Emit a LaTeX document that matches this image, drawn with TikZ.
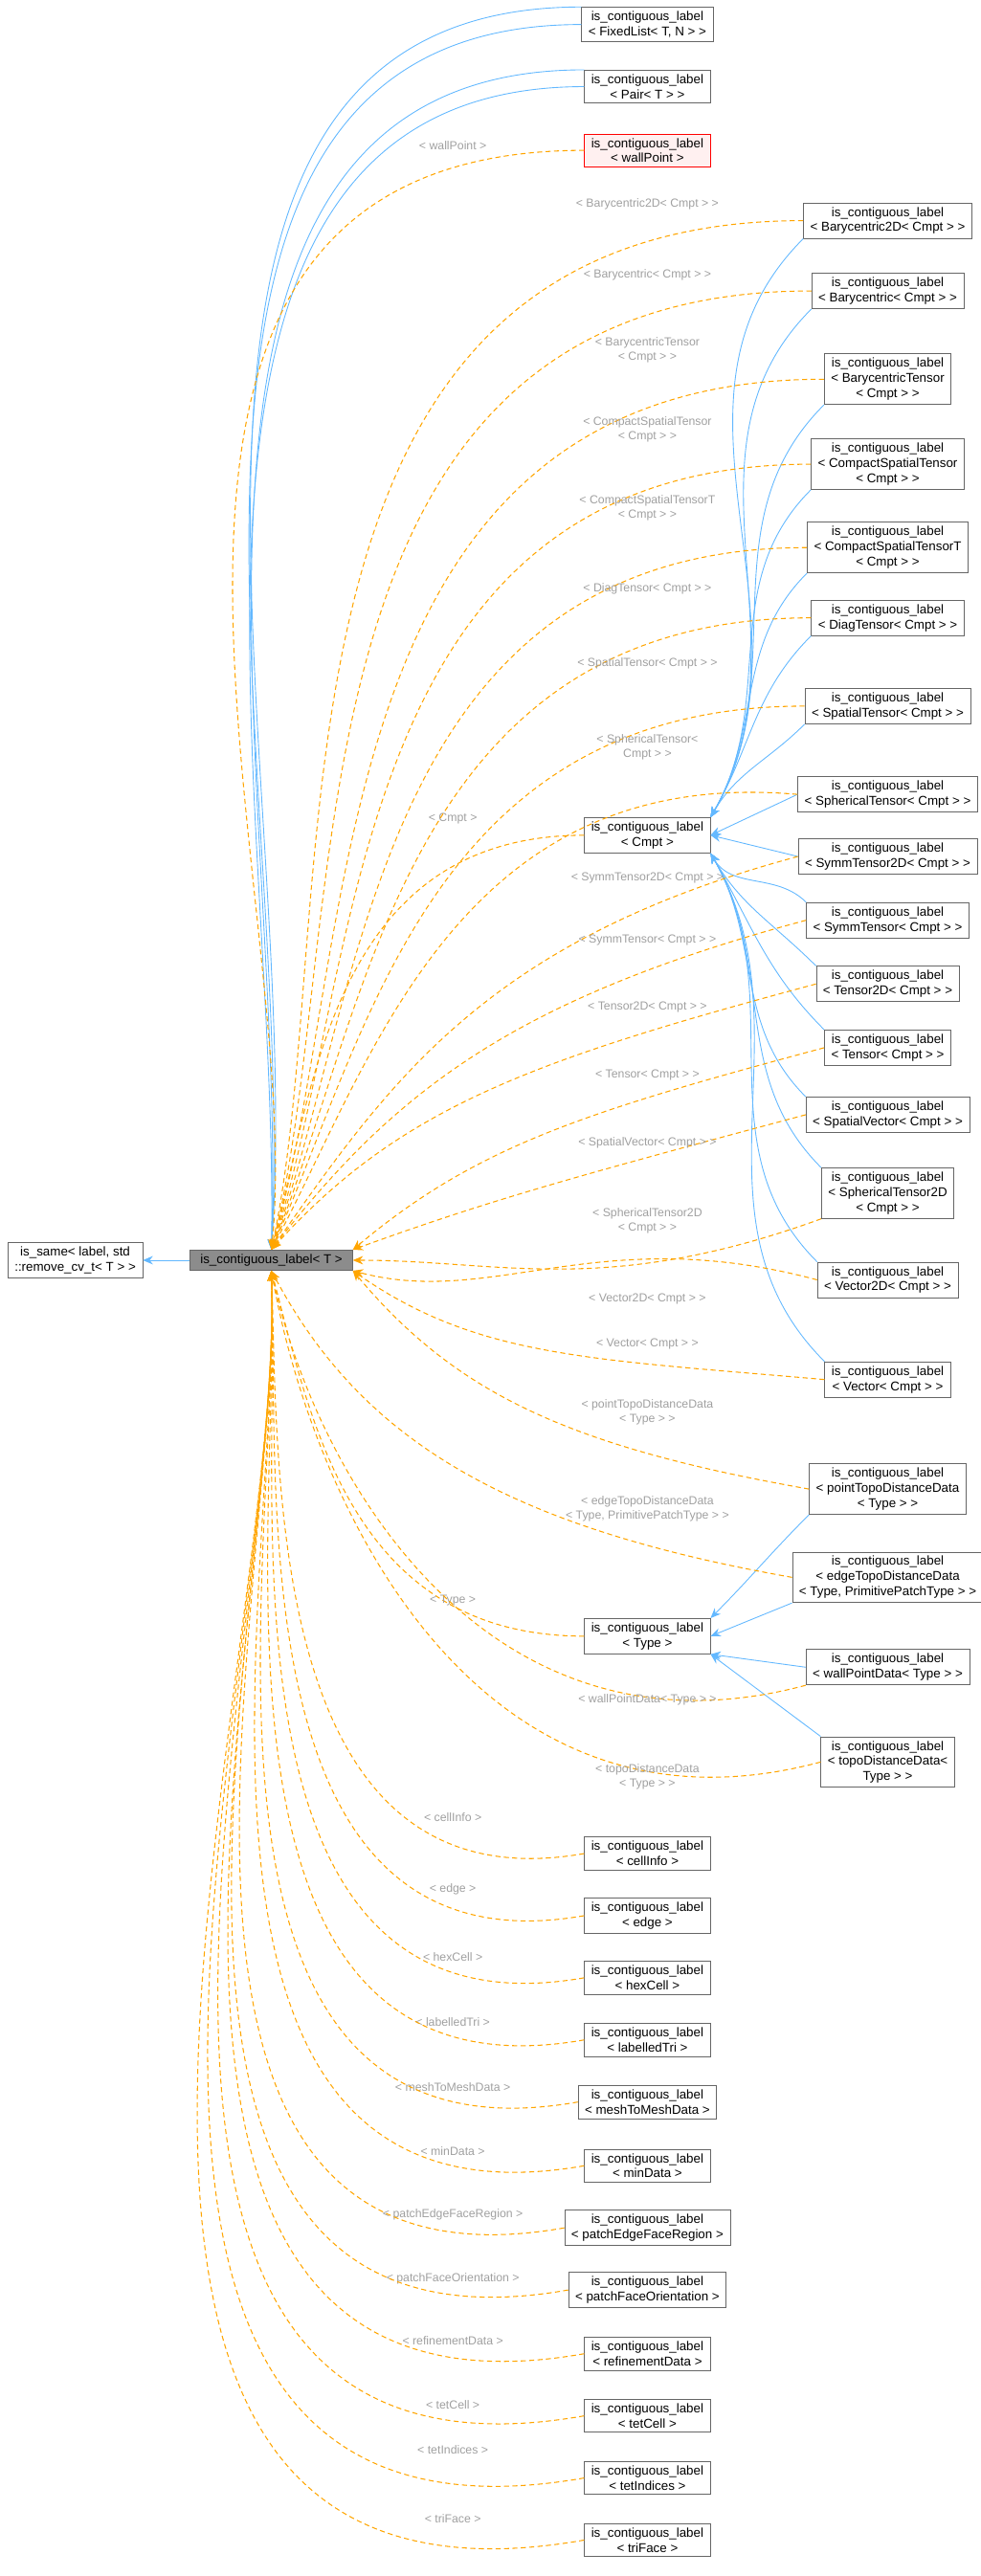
\documentclass[tikz,border=0pt]{standalone}
\usepackage{fontspec}
\setmainfont{Liberation Sans}
\usepackage{xcolor}
\usetikzlibrary{arrows.meta}
\definecolor{edgeblue}{HTML}{63B8FF}
\definecolor{edgeorange}{HTML}{FFA500}
\definecolor{lblgray}{HTML}{A0A0A0}
\tikzset{
  box/.style={draw=black!60, fill=white, align=center, inner xsep=4pt, inner ysep=2.5pt,
    font=\fontsize{7.6}{9}\selectfont},
  mainbox/.style={box, fill=black!45, inner xsep=6pt},
  redbox/.style={box, draw=red, fill=red!6},
  inh/.style={edgeblue, line width=.5pt, -{Stealth[length=6pt,width=5pt]}},
  dep/.style={edgeorange, line width=.6pt, dashed, dash pattern=on 3pt off 2pt, -{Stealth[length=6pt,width=5pt]},
    out looseness=1.25, in looseness=0.8},
  lbl/.style={text=lblgray, align=center, font=\fontsize{7}{8.5}\selectfont, inner sep=0pt}
}
\begin{document}
\begin{tikzpicture}[x=0.03417cm, y=-0.03417cm]
    \useasboundingbox (0,0) rectangle (600,1576);
    \node[box] (base) at (46,771) {is\_same< label, std\\::remove\_cv\_t< T > >};
    \node[mainbox] (main) at (166,771) {is\_contiguous\_label< T >};
    \draw[inh] (main) -- (base);
    \node[box] (fixedlist) at (396,15) {is\_contiguous\_label\\< FixedList< T, N > >};
    \node[box] (pair) at (396,53) {is\_contiguous\_label\\< Pair< T > >};
    \node[redbox] (wallpoint) at (396,92) {is\_contiguous\_label\\< wallPoint >};
    \draw[inh] (fixedlist.north west) to[out=180,in=86] (main.north);
    \draw[inh] (fixedlist.west) to[out=180,in=87] (main.north);
    \draw[inh] (pair.north west) to[out=180,in=88] (main.north);
    \draw[inh] (pair.west) to[out=180,in=89] (main.north);
    \draw[dep] (wallpoint.west) to[out=180,in=84] (main.north);
    \node[lbl] (l-wallpoint) at (277,89) {< wallPoint >};
    % Cmpt instances
    \node[box] (cmpt) at (396,511) {is\_contiguous\_label\\< Cmpt >};
    \draw[dep] (cmpt.west) to[out=180,in=75] (main.north);
    \node[lbl] (l-cmpt) at (277,501) {< Cmpt >};
    \node[box] (bary2d) at (543,135) {is\_contiguous\_label\\< Barycentric2D< Cmpt > >};
    \node[box] (bary) at (543,178) {is\_contiguous\_label\\< Barycentric< Cmpt > >};
    \node[box] (barytensor) at (543,232) {is\_contiguous\_label\\< BarycentricTensor\\< Cmpt > >};
    \node[box] (compact) at (543,284) {is\_contiguous\_label\\< CompactSpatialTensor\\< Cmpt > >};
    \node[box] (compactT) at (543,335) {is\_contiguous\_label\\< CompactSpatialTensorT\\< Cmpt > >};
    \node[box] (diag) at (543,378) {is\_contiguous\_label\\< DiagTensor< Cmpt > >};
    \node[box] (spatial) at (543,432) {is\_contiguous\_label\\< SpatialTensor< Cmpt > >};
    \node[box] (spherical) at (543,486) {is\_contiguous\_label\\< SphericalTensor< Cmpt > >};
    \node[box] (symm2d) at (543,524) {is\_contiguous\_label\\< SymmTensor2D< Cmpt > >};
    \node[box] (symm) at (543,563) {is\_contiguous\_label\\< SymmTensor< Cmpt > >};
    \node[box] (tensor2d) at (543,602) {is\_contiguous\_label\\< Tensor2D< Cmpt > >};
    \node[box] (tensor) at (543,641) {is\_contiguous\_label\\< Tensor< Cmpt > >};
    \node[box] (spvector) at (543,682) {is\_contiguous\_label\\< SpatialVector< Cmpt > >};
    \node[box] (spherical2d) at (543,730) {is\_contiguous\_label\\< SphericalTensor2D\\< Cmpt > >};
    \node[box] (vector2d) at (543,783) {is\_contiguous\_label\\< Vector2D< Cmpt > >};
    \node[box] (vector) at (543,844) {is\_contiguous\_label\\< Vector< Cmpt > >};
    \foreach \n in {bary2d,bary,barytensor,compact,compactT,diag,spatial}
      \draw[inh] (\n.south west) to[out=225,in=60] (cmpt.north east);
    \draw[inh] (spherical.west) -- (cmpt.east);
    \draw[inh] (symm2d.west) -- (cmpt.east);
    \foreach \n in {symm,tensor2d,tensor,spvector,spherical2d,vector2d,vector}
      \draw[inh] (\n.north west) to[out=135,in=-60] (cmpt.south east);
    % dependencies of the Cmpt instances
    \draw[dep] (bary2d.west) to[out=180,in=78] (main.north);
    \node[lbl] (l-bary2d) at (396,125) {< Barycentric2D< Cmpt > >};
    \draw[dep] (bary.west) to[out=180,in=76] (main.north);
    \node[lbl] (l-bary) at (396,168) {< Barycentric< Cmpt > >};
    \draw[dep] (barytensor.west) to[out=180,in=74] (main.north);
    \node[lbl] (l-barytensor) at (396,214) {< BarycentricTensor\\< Cmpt > >};
    \draw[dep] (compact.west) to[out=180,in=72] (main.north);
    \node[lbl] (l-compact) at (396,263) {< CompactSpatialTensor\\< Cmpt > >};
    \draw[dep] (compactT.west) to[out=180,in=70] (main.north);
    \node[lbl] (l-compactT) at (396,311) {< CompactSpatialTensorT\\< Cmpt > >};
    \draw[dep] (diag.west) to[out=180,in=68] (main.north);
    \node[lbl] (l-diag) at (396,360) {< DiagTensor< Cmpt > >};
    \draw[dep] (spatial.west) to[out=180,in=66] (main.north);
    \node[lbl] (l-spatial) at (396,406) {< SpatialTensor< Cmpt > >};
    \draw[dep] (spherical.west) to[out=175,in=62] (main.north);
    \node[lbl] (l-spherical) at (396,457) {< SphericalTensor<\\Cmpt > >};
    \draw[dep] (symm2d.west) to[out=195,in=55] (main.north);
    \node[lbl] (l-symm2d) at (396,537) {< SymmTensor2D< Cmpt > >};
    \draw[dep] (symm.west) to[out=195,in=52] (main.north);
    \node[lbl] (l-symm) at (396,575) {< SymmTensor< Cmpt > >};
    \draw[dep] (tensor2d.west) to[out=195,in=48] (main.north);
    \node[lbl] (l-tensor2d) at (396,616) {< Tensor2D< Cmpt > >};
    \draw[dep] (tensor.west) to[out=195,in=40] (main.north east);
    \node[lbl] (l-tensor) at (396,658) {< Tensor< Cmpt > >};
    \draw[dep] (spvector.west) to[out=195,in=20] (main.north east);
    \node[lbl] (l-spvector) at (396,699) {< SpatialVector< Cmpt > >};
    \draw[dep] (spherical2d.south west) to[out=200,in=0] (main.east);
    \node[lbl] (l-spherical2d) at (396,747) {< SphericalTensor2D\\< Cmpt > >};
    \draw[dep] (vector2d.west) to[out=165,in=-15] (main.south east);
    \node[lbl] (l-vector2d) at (396,795) {< Vector2D< Cmpt > >};
    \draw[dep] (vector.west) to[out=175,in=-35] (main.south east);
    \node[lbl] (l-vector) at (396,822) {< Vector< Cmpt > >};
    % Type instances
    \node[box] (type) at (396,1001) {is\_contiguous\_label\\< Type >};
    \draw[dep] (type.west) to[out=180,in=-75] (main.south);
    \node[lbl] (l-type) at (277,979) {< Type >};
    \node[box] (pointtopo) at (543,911) {is\_contiguous\_label\\< pointTopoDistanceData\\< Type > >};
    \node[box] (edgetopo) at (543,965) {is\_contiguous\_label\\< edgeTopoDistanceData\\< Type, PrimitivePatchType > >};
    \node[box] (wallpointdata) at (543,1020) {is\_contiguous\_label\\< wallPointData< Type > >};
    \node[box] (topo) at (543,1078) {is\_contiguous\_label\\< topoDistanceData<\\Type > >};
    \draw[inh] (pointtopo.south west) to[out=225,in=45] (type.north east);
    \draw[inh] (edgetopo.south west) -- (type.east);
    \draw[inh] (wallpointdata.west) -- (type.south east);
    \draw[inh] (topo.north west) -- (type.south east);
    \draw[dep] (pointtopo.west) to[out=170,in=-50] (main.south east);
    \node[lbl] (l-pointtopo) at (396,864) {< pointTopoDistanceData\\< Type > >};
    \draw[dep] (edgetopo.west) to[out=170,in=-62] (main.south);
    \node[lbl] (l-edgetopo) at (396,923) {< edgeTopoDistanceData\\< Type, PrimitivePatchType > >};
    \draw[dep] (wallpointdata.south west) to[out=195,in=-78] (main.south);
    \node[lbl] (l-wallpointdata) at (396,1040) {< wallPointData< Type > >};
    \draw[dep] (topo.west) to[out=195,in=-80] (main.south);
    \node[lbl] (l-topo) at (396,1087) {< topoDistanceData\\< Type > >};
    % plain instances
    \foreach \n/\y/\ly in {cellInfo/1134/1112,edge/1172/1156,hexCell/1210/1197,labelledTri/1248/1237,
        meshToMeshData/1286/1277,minData/1325/1316,patchEdgeFaceRegion/1363/1355,
        patchFaceOrientation/1401/1394,refinementData/1440/1432,tetCell/1478/1471,
        tetIndices/1516/1499,triFace/1554/1541} {
      \node[box] (n-\n) at (396,\y) {is\_contiguous\_label\\< \n\ >};
      \node[lbl] (l-\n) at (277,\ly) {< \n\ >};
      \draw[dep] (n-\n.west) to[out=190,in=-88] (main.south);
    }
\end{tikzpicture}
\end{document}
